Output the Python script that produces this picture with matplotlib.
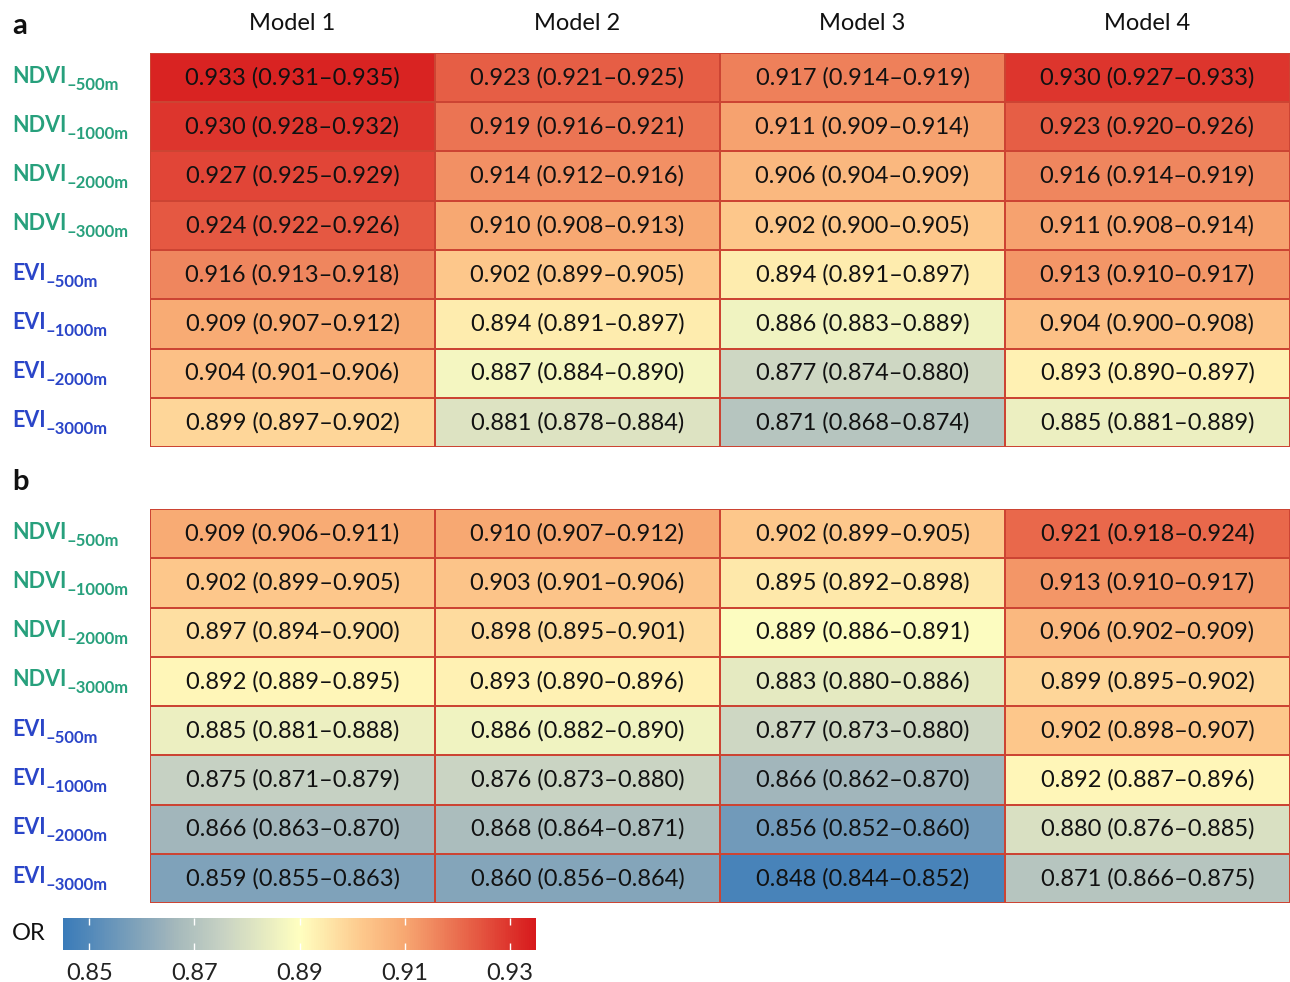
import numpy as np
import matplotlib
matplotlib.use("Agg")
import matplotlib.pyplot as plt
from matplotlib.colors import LinearSegmentedColormap, Normalize
from matplotlib.cm import ScalarMappable

plt.rcParams["font.family"] = ["Lato", "DejaVu Sans"]

models = ["Model 1", "Model 2", "Model 3", "Model 4"]
row_main = ["NDVI", "NDVI", "NDVI", "NDVI", "EVI", "EVI", "EVI", "EVI"]
row_sub = ["–500m", "–1000m", "–2000m", "–3000m", "–500m", "–1000m", "–2000m", "–3000m"]

# Odds ratios (rows = buffer index, columns = models) with 95% CI bounds
or_a = [
    [0.933, 0.923, 0.917, 0.930],
    [0.930, 0.919, 0.911, 0.923],
    [0.927, 0.914, 0.906, 0.916],
    [0.924, 0.910, 0.902, 0.911],
    [0.916, 0.902, 0.894, 0.913],
    [0.909, 0.894, 0.886, 0.904],
    [0.904, 0.887, 0.877, 0.893],
    [0.899, 0.881, 0.871, 0.885],
]
lo_a = [
    [0.931, 0.921, 0.914, 0.927],
    [0.928, 0.916, 0.909, 0.920],
    [0.925, 0.912, 0.904, 0.914],
    [0.922, 0.908, 0.900, 0.908],
    [0.913, 0.899, 0.891, 0.910],
    [0.907, 0.891, 0.883, 0.900],
    [0.901, 0.884, 0.874, 0.890],
    [0.897, 0.878, 0.868, 0.881],
]
hi_a = [
    [0.935, 0.925, 0.919, 0.933],
    [0.932, 0.921, 0.914, 0.926],
    [0.929, 0.916, 0.909, 0.919],
    [0.926, 0.913, 0.905, 0.914],
    [0.918, 0.905, 0.897, 0.917],
    [0.912, 0.897, 0.889, 0.908],
    [0.906, 0.890, 0.880, 0.897],
    [0.902, 0.884, 0.874, 0.889],
]
or_b = [
    [0.909, 0.910, 0.902, 0.921],
    [0.902, 0.903, 0.895, 0.913],
    [0.897, 0.898, 0.889, 0.906],
    [0.892, 0.893, 0.883, 0.899],
    [0.885, 0.886, 0.877, 0.902],
    [0.875, 0.876, 0.866, 0.892],
    [0.866, 0.868, 0.856, 0.880],
    [0.859, 0.860, 0.848, 0.871],
]
lo_b = [
    [0.906, 0.907, 0.899, 0.918],
    [0.899, 0.901, 0.892, 0.910],
    [0.894, 0.895, 0.886, 0.902],
    [0.889, 0.890, 0.880, 0.895],
    [0.881, 0.882, 0.873, 0.898],
    [0.871, 0.873, 0.862, 0.887],
    [0.863, 0.864, 0.852, 0.876],
    [0.855, 0.856, 0.844, 0.866],
]
hi_b = [
    [0.911, 0.912, 0.905, 0.924],
    [0.905, 0.906, 0.898, 0.917],
    [0.900, 0.901, 0.891, 0.909],
    [0.895, 0.896, 0.886, 0.902],
    [0.888, 0.890, 0.880, 0.907],
    [0.879, 0.880, 0.870, 0.896],
    [0.870, 0.871, 0.860, 0.885],
    [0.863, 0.864, 0.852, 0.875],
]
cbar_ticks = [0.85, 0.87, 0.89, 0.91, 0.93]

W, H = 1290, 982
fig = plt.figure(figsize=(W / 100, H / 100), dpi=100)


def px_rect(x0, y0, x1, y1):
    return [x0 / W, 1 - y1 / H, (x1 - x0) / W, (y1 - y0) / H]


vmin, vmax = 0.845, 0.935


def pos(v):
    return (v - vmin) / (vmax - vmin)


cmap = LinearSegmentedColormap.from_list(
    "or_div",
    [(0.0, "#3a7bb9"),
     (pos(0.866), "#a3b7bb"),
     (pos(0.875), "#c6d1c3"),
     (pos(0.89), "#ffffc0"),
     (pos(0.902), "#fdc88c"),
     (pos(0.91), "#f7a872"),
     (1.0, "#d7191c")],
)
norm = Normalize(vmin=vmin, vmax=vmax)

edge = "#cc4433"
ndvi_col = "#27a07c"
evi_col = "#2a45c8"
txt_size = 17


def heat_panel(rect, vals, lo, hi, letter, letter_y, header):
    ax = fig.add_axes(px_rect(*rect))
    v = np.array(vals)
    nr, nc = v.shape
    ax.pcolormesh(np.arange(nc + 1), np.arange(nr + 1), v, cmap=cmap, norm=norm,
                  edgecolors=edge, linewidth=1.1)
    ax.set_xlim(0, nc)
    ax.set_ylim(nr, 0)
    ax.set_axis_off()
    for i in range(nr):
        for j in range(nc):
            ax.text(j + 0.5, i + 0.5, f"{vals[i][j]:.3f} ({lo[i][j]:.3f}–{hi[i][j]:.3f})",
                    ha="center", va="center", fontsize=txt_size, color="#111111")
        col = ndvi_col if row_main[i] == "NDVI" else evi_col
        t = ax.annotate(row_main[i], xy=(12, i + 0.47), xycoords=("figure pixels", "data"),
                        ha="left", va="center", fontsize=15.5, fontweight="bold", color=col,
                        annotation_clip=False)
        ax.annotate(row_sub[i], xy=(1, 0), xycoords=t, xytext=(0, 1.5),
                    textcoords="offset points", ha="left", va="center", fontsize=12,
                    fontweight="bold", color=col, annotation_clip=False)
    if header:
        for j, m in enumerate(models):
            ax.annotate(m, xy=(j + 0.5, H - 23), xycoords=("data", "figure pixels"),
                        ha="center", va="center", fontsize=txt_size, color="#111111",
                        annotation_clip=False)
    fig.text(12 / W, 1 - letter_y / H, letter, ha="left", va="center",
             fontsize=21, fontweight="bold", color="#111111")
    return ax


heat_panel((150, 53, 1290, 447), or_a, lo_a, hi_a, "a", 26, True)
heat_panel((150, 509, 1290, 903), or_b, lo_b, hi_b, "b", 482, False)

# colour legend
cax = fig.add_axes(px_rect(63, 918, 536, 950))
cb = fig.colorbar(ScalarMappable(norm=norm, cmap=cmap), cax=cax, orientation="horizontal")
cb.outline.set_visible(False)
cb.set_ticks(cbar_ticks)
cb.set_ticklabels([f"{t:.2f}" for t in cbar_ticks])
cax.tick_params(axis="x", direction="in", length=5, width=1, color="white",
                top=True, bottom=True, labelsize=txt_size, labelcolor="#222222", pad=9)
fig.text(12 / W, 1 - 934 / H, "OR", ha="left", va="center", fontsize=txt_size, color="#111111")

fig.savefig("out.png", dpi=100)
